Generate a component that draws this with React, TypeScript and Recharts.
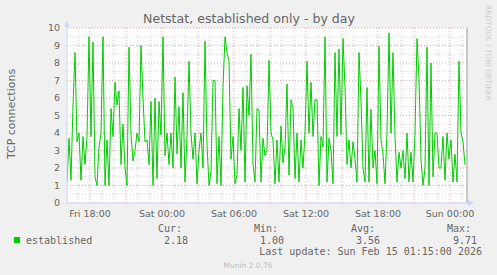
import React from "react";
import { LineChart, Line, XAxis, YAxis, CartesianGrid, ReferenceLine } from "recharts";

// TCP connections (established), 10-minute samples starting Fri 16:05
const established = [
  1.2, 3.7, 1.3, 5.6, 8.6, 3.5, 4.0, 1.3, 3.8, 2.2, 3.8, 9.5, 3.8, 9.2, 1.5, 1.0, 3.2, 4.0, 9.5, 1.0, 3.6, 1.0, 5.4, 3.8, 6.9, 5.6, 6.4, 2.2, 4.5,
  2.0, 1.0, 8.9, 4.0, 2.4, 3.0, 4.0, 3.5, 9.0, 6.0, 3.5, 3.6, 2.2, 5.8, 1.0, 6.0, 1.4, 5.8, 3.9, 9.5, 2.7, 4.0, 2.2, 4.0, 2.0, 7.2, 2.8, 5.5, 2.0,
  6.3, 1.2, 3.8, 8.1, 4.0, 2.5, 4.0, 1.1, 3.0, 4.0, 2.0, 9.25, 3.3, 1.0, 1.8, 7.0, 7.0, 1.1, 3.8, 1.0, 6.6, 9.5, 8.6, 8.1, 2.5, 3.8, 1.1, 1.6, 5.4,
  3.0, 6.6, 1.2, 6.7, 5.0, 8.5, 2.2, 1.2, 5.4, 5.3, 1.2, 3.7, 2.7, 3.0, 8.15, 4.0, 3.6, 1.1, 3.6, 1.2, 4.4, 2.3, 3.2, 6.8, 1.6, 5.9, 5.4, 1.4, 4.0,
  1.2, 3.6, 2.0, 4.0, 8.1, 4.0, 6.9, 3.8, 5.9, 5.9, 1.0, 3.8, 3.2, 9.5, 1.2, 3.7, 3.0, 1.1, 8.6, 3.8, 8.8, 3.9, 9.4, 6.6, 2.2, 3.6, 2.0, 3.5, 2.5,
  1.2, 8.6, 5.8, 2.0, 1.2, 6.6, 1.2, 5.35, 2.0, 3.0, 1.1, 8.95, 3.6, 2.8, 1.1, 4.0, 9.71, 4.0, 8.6, 3.8, 1.2, 2.9, 2.0, 3.0, 1.4, 4.0, 1.2, 2.9, 1.2,
  4.0, 9.4, 7.1, 2.5, 1.0, 2.0, 8.9, 1.0, 8.0, 1.5, 4.0, 4.0, 2.0, 2.0, 3.8, 1.3, 4.0, 2.5, 3.6, 1.2, 2.8, 1.2, 8.1, 4.0, 3.5, 2.18,
];
const startHour = 16 + 5 / 60; // hours since Fri 00:00
const stepHours = 10 / 60;
const xDomain = [16 + 5 / 60, 49 + 25 / 60];

const xTickHours = [18, 24, 30, 36, 42, 48];
const xTickLabels = ["Fri 18:00", "Sat 00:00", "Sat 06:00", "Sat 12:00", "Sat 18:00", "Sun 00:00"];
const yTicks = [0, 1, 2, 3, 4, 5, 6, 7, 8, 9, 10];
const minorYValues = [0.5, 1.5, 2.5, 3.5, 4.5, 5.5, 6.5, 7.5, 8.5, 9.5];
const majorXHours = [18, 21, 24, 27, 30, 33, 36, 39, 42, 45, 48];
const minorXHours = [17, 19, 20, 22, 23, 25, 26, 28, 29, 31, 32, 34, 35, 37, 38, 40, 41, 43, 44, 46, 47, 49];

const title = "Netstat, established only - by day";
const yLabel = "TCP connections";
const seriesName = "established";
const statLabels = ["Cur:", "Min:", "Avg:", "Max:"];
const statValues = ["2.18", "1.00", "3.56", "9.71"];
const lastUpdate = "Last update: Sun Feb 15 01:15:00 2026";
const footer = "Munin 2.0.76";
const watermark = "RRDTOOL / TOBI OETIKER";

const data = established.map((v, i) => ({ t: startHour + i * stepHours, v }));

const FONT = "#666666";
const AXIS = "#CFD6F8";
const MINOR = "#d4d4d4";
const MAJOR = "#e8a8a8";
const GREEN = "#00CC00";

const statLabelEnds = [182, 278, 375, 471];
const statValueEnds = [188, 284, 380, 477];

export default function App() {
  return (
    <div
      style={{
        position: "absolute",
        left: 0,
        top: 0,
        width: 497,
        height: 275,
        background: "#F0F0F0",
        fontFamily: "'DejaVu Sans', sans-serif",
        overflow: "hidden",
      }}
    >
      <LineChart width={497} height={275} data={data} margin={{ top: 28, right: 30, bottom: 52, left: 0 }}>
        <CartesianGrid fill="#FFFFFF" horizontal={false} vertical={false} stroke="none" />
        {minorYValues.map((y) => (
          <ReferenceLine key={"my" + y} y={y} stroke={MINOR} strokeDasharray="1 2" />
        ))}
        {minorXHours.map((x) => (
          <ReferenceLine key={"mx" + x} x={x} stroke={MINOR} strokeDasharray="1 2" />
        ))}
        {yTicks.map((y) => (
          <ReferenceLine key={"My" + y} y={y} stroke={MAJOR} strokeDasharray="1 2" />
        ))}
        {majorXHours.map((x) => (
          <ReferenceLine key={"Mx" + x} x={x} stroke={MAJOR} strokeDasharray="1 2" />
        ))}
        <ReferenceLine x={xDomain[1]} stroke="#999999" />
        <XAxis
          dataKey="t"
          type="number"
          domain={xDomain}
          ticks={xTickHours}
          tickFormatter={(h) => xTickLabels[xTickHours.indexOf(h)]}
          height={20}
          allowDataOverflow
          axisLine={{ stroke: AXIS }}
          tickLine={false}
          tickSize={4}
          tickMargin={3}
          tick={{ fill: FONT, fontSize: 9.5 }}
        />
        <YAxis
          type="number"
          domain={[0, 10]}
          ticks={yTicks}
          width={67}
          axisLine={{ stroke: AXIS }}
          tickLine={false}
          tickSize={5}
          tickMargin={2}
          tick={{ fill: FONT, fontSize: 9.5 }}
        />
        <Line
          dataKey="v"
          type="linear"
          stroke={GREEN}
          strokeWidth={1}
          dot={false}
          activeDot={false}
          isAnimationActive={false}
        />
      </LineChart>
      <svg
        width={497}
        height={275}
        style={{ position: "absolute", left: 0, top: 0, pointerEvents: "none" }}
      >
        <text x={249} y={23} textAnchor="middle" fontSize={12} fill={FONT} textLength={212} lengthAdjust="spacingAndGlyphs">
          {title}
        </text>
        <text
          x={11}
          y={114}
          textAnchor="middle"
          dominantBaseline="central"
          fontSize={11}
          fill={FONT}
          transform="rotate(-90 11 114)"
        >
          {yLabel}
        </text>
        <text
          x={488}
          y={53}
          textAnchor="middle"
          dominantBaseline="central"
          fontSize={7}
          fill="#cccccc"
          textLength={96}
          lengthAdjust="spacingAndGlyphs"
          transform="rotate(90 488 53)"
        >
          {watermark}
        </text>
        {/* axis arrows */}
        <line x1={67} y1={28} x2={67} y2={22} stroke={AXIS} />
        <polygon points="64,27 70,27 67,21" fill={AXIS} />
        <line x1={467} y1={203} x2={472} y2={203} stroke={AXIS} />
        <polygon points="468,200 468,206 474,203" fill={AXIS} />
        <g fontFamily="'DejaVu Sans Mono', monospace" fontSize={10} fill={FONT}>
          {statLabels.map((s, i) => (
            <text key={s} x={statLabelEnds[i]} y={232} textAnchor="end">
              {s}
            </text>
          ))}
          <rect x={14} y={237} width={6} height={6} fill={GREEN} />
          <text x={26} y={243.5}>
            {seriesName}
          </text>
          {statValues.map((s, i) => (
            <text key={"v" + i} x={statValueEnds[i]} y={243.5} textAnchor="end">
              {s}
            </text>
          ))}
          <text x={482} y={254.5} textAnchor="end">
            {lastUpdate}
          </text>
        </g>
        <text x={248} y={267.5} textAnchor="middle" fontSize={7.5} fill="#bbbbbb">
          {footer}
        </text>
      </svg>
    </div>
  );
}
